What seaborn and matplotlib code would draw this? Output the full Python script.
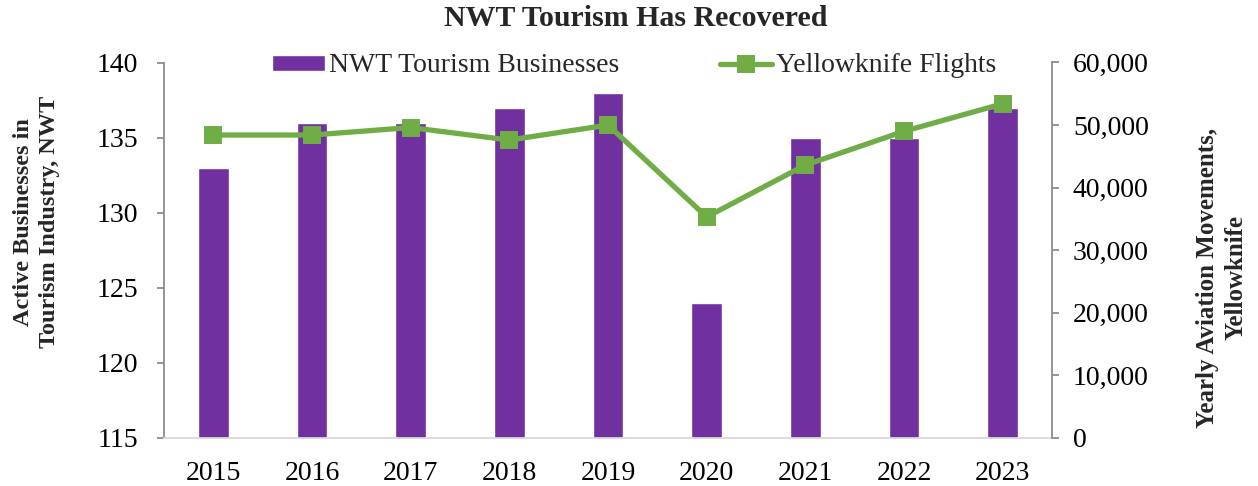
import matplotlib
matplotlib.use("Agg")
import matplotlib.pyplot as plt
import matplotlib.ticker as mticker
import pandas as pd
import seaborn as sns

# Data
years = ["2015", "2016", "2017", "2018", "2019", "2020", "2021", "2022", "2023"]
businesses = [133, 136, 136, 137, 138, 124, 135, 135, 137]
flights = [48400, 48400, 49600, 47600, 50000, 35300, 43600, 49000, 53400]

business_ticks = [115, 120, 125, 130, 135, 140]
flight_ticks = [0, 10000, 20000, 30000, 40000, 50000, 60000]

PURPLE = "#7030A0"
GREEN = "#70AD47"
AXIS_GRAY = "#8C8C8C"
BASE_GRAY = "#D9D9D9"

df = pd.DataFrame({"year": years, "businesses": businesses, "flights": flights})

sns.set_theme(style="white")
plt.rcParams["font.family"] = ["Liberation Serif", "DejaVu Serif"]

W, H = 1258, 486
fig = plt.figure(figsize=(W / 100, H / 100), dpi=100)
ax = fig.add_axes([164 / W, 1 - 437.7 / H, 888 / W, 375.2 / H])

sns.barplot(data=df, x="year", y="businesses", ax=ax, color=PURPLE,
            saturation=1, width=0.31, errorbar=None, zorder=2)
ax.set_ylim(business_ticks[0], business_ticks[-1])
ax.set_yticks(business_ticks)
ax.set_xlabel("")
ax.set_ylabel("")

ax2 = ax.twinx()
sns.pointplot(data=df, x="year", y="flights", ax=ax2, color=GREEN,
              markers="s", linestyles="-", errorbar=None,
              markersize=10, linewidth=3.8)
ax2.set_ylim(flight_ticks[0], flight_ticks[-1])
ax2.set_yticks(flight_ticks)
ax2.yaxis.set_major_formatter(mticker.FuncFormatter(lambda v, p: f"{int(v):,}"))
ax2.set_ylabel("")
ax2.set_xlabel("")
for a in (ax, ax2):
    if a.get_legend() is not None:
        a.get_legend().remove()

# Spines and ticks
for a in (ax, ax2):
    a.spines["top"].set_visible(False)
    a.grid(False)
    a.set_facecolor("none")
ax.spines["right"].set_visible(False)
ax.spines["left"].set_color(AXIS_GRAY)
ax.spines["left"].set_linewidth(1.3)
ax.spines["bottom"].set_color(BASE_GRAY)
ax.spines["bottom"].set_linewidth(1.3)
ax2.spines["left"].set_visible(False)
ax2.spines["bottom"].set_visible(False)
ax2.spines["right"].set_color(AXIS_GRAY)
ax2.spines["right"].set_linewidth(1.3)

ax.tick_params(axis="y", which="major", direction="out", length=5, width=1.3,
               color=AXIS_GRAY, labelsize=20, pad=13.5, labelcolor="black", left=True)
ax.tick_params(axis="x", length=0, labelsize=20, pad=17, labelcolor="black")
ax2.tick_params(axis="y", which="major", direction="out", length=5, width=1.3,
                color=AXIS_GRAY, labelsize=20, pad=10, labelcolor="black", right=True)

# Legend
handles = [ax.patches[0], ax2.lines[0]]
labels = ["NWT Tourism Businesses", "Yellowknife Flights"]
fig.legend(handles, labels, loc="center", bbox_to_anchor=(634.5 / W, 1 - 66 / H),
           ncol=2, frameon=False, fontsize=20, handlelength=1.9, handleheight=0.5,
           handletextpad=0.15, columnspacing=3.6, borderpad=0, borderaxespad=0)

# Titles
fig.text(636 / W, 1 - 5 / H, "NWT Tourism Has Recovered", ha="center", va="top",
         fontsize=21.5, fontweight="bold")
fig.text(36.5 / W, 1 - 222 / H, "Active Businesses in\nTourism Industry, NWT",
         rotation=90, ha="center", va="center", fontsize=17.5, fontweight="bold",
         linespacing=1.3)
fig.text(1222 / W, 1 - 278 / H, "Yearly Aviation Movements,\nYellowknife",
         rotation=90, ha="center", va="center", fontsize=18, fontweight="bold",
         linespacing=1.3)

fig.savefig("out.png", dpi=100, facecolor="white")
